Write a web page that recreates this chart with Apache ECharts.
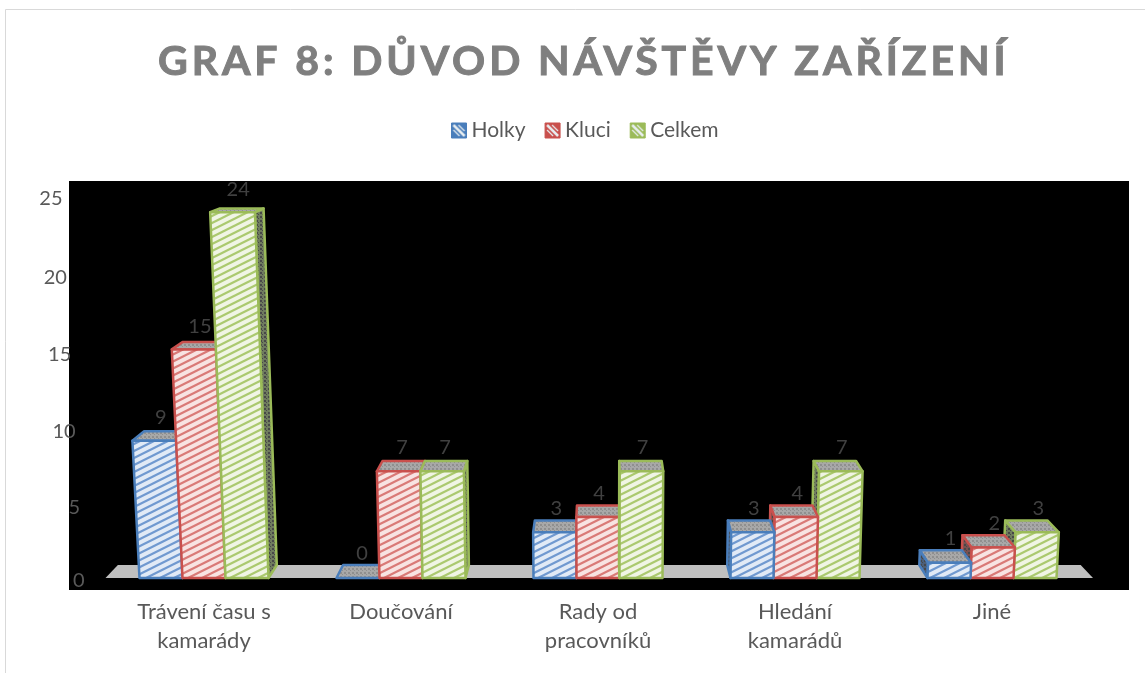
<!DOCTYPE html>
<html><head><meta charset="utf-8">
<style>html,body{margin:0;padding:0;background:#fff}#c{width:1145px;height:673px}</style>
<script src="https://cdn.jsdelivr.net/npm/echarts@6/dist/echarts.min.js"></script>
</head><body><div id="c"></div>
<script>
const titleText = 'GRAF 8: DŮVOD NÁVŠTĚVY ZAŘÍZENÍ';
const categories = ['Trávení času s\nkamarády', 'Doučování', 'Rady od\npracovníků', 'Hledání\nkamarádů', 'Jiné'];
const seriesNames = ['Holky', 'Kluci', 'Celkem'];
const holky = [9, 0, 3, 3, 1];
const kluci = [15, 7, 4, 4, 2];
const celkem = [24, 7, 7, 7, 3];
const yTicks = [0, 5, 10, 15, 20, 25];

const FONT = 'Lato';
const VPX = 600, VPY = 58, DEPTH = 0.025, SKEW = 1.12e-4, BAR = 0.2183;
const palette = [
  {line: '#4a7ebb', stripe: '#7099d0', bg: '#e1eaf6', side: '#4c5f78'},
  {line: '#c9504d', stripe: '#d97a77', bg: '#f8e3e2', side: '#7a5050'},
  {line: '#9bbb59', stripe: '#abc96f', bg: '#f0f5e4', side: '#6f7c5e'}
];
const yNudge = {0: 3, 5: 6, 10: 6, 15: 5, 20: 4, 25: 2};

function tile(w, h, draw) {
  const c = document.createElement('canvas'); c.width = w; c.height = h;
  draw(c.getContext('2d'), w, h);
  return {image: c, repeat: 'repeat'};
}
function stripes(bg, fg) {
  return tile(14, 7, (g, w, h) => {
    g.fillStyle = bg; g.fillRect(0, 0, w, h);
    g.strokeStyle = fg; g.lineWidth = 2.2;
    [-h, 0, h].forEach(o => { g.beginPath(); g.moveTo(-2, h + o + 1); g.lineTo(w + 2, o - 1); g.stroke(); });
  });
}
function dots(bg, fg) {
  return tile(4, 4, (g, w, h) => {
    g.fillStyle = bg; g.fillRect(0, 0, w, h);
    g.fillStyle = fg; g.fillRect(0, 0, 2, 2); g.fillRect(2, 2, 1, 1);
  });
}
function legendIcon(col) {
  return tile(15, 15, (g, w, h) => {
    g.fillStyle = col; g.fillRect(0, 0, w, h);
    g.strokeStyle = '#e8eef0'; g.lineWidth = 2.5;
    g.beginPath(); g.moveTo(2, 2); g.lineTo(13, 13); g.stroke();
    g.lineWidth = 1.2;
    g.beginPath(); g.moveTo(7, 2); g.lineTo(13, 8); g.moveTo(2, 7); g.lineTo(8, 13); g.stroke();
  });
}
const fronts = palette.map(p => stripes(p.bg, p.stripe));
const topFill = dots('#a8a8a8', '#8f8f8f');
const sides = palette.map(p => dots(p.side, '#484848'));

const back = p => [p[0] + (VPX - p[0]) * DEPTH, p[1] + (VPY - p[1]) * DEPTH];

function barRenderer(si) {
  return (params, api) => {
    const cat = api.value(0), val = api.value(1);
    const base = api.coord([cat, 0]), tip = api.coord([cat, val]);
    const w = api.size([1, 0])[0] * BAR;
    const left = base[0] + (si - 1.5) * w, right = left + w;
    const yB = base[1], yT = tip[1], h = yB - yT;
    const sk = x => x + (x - VPX) * h * SKEW;
    const fbL = [left, yB], fbR = [right, yB], ftL = [sk(left), yT], ftR = [sk(right), yT];
    const btL = back(ftL), btR = back(ftR);
    const order = (base[0] < VPX ? si : 2 - si) * 10;
    const col = palette[si], children = [];
    const poly = (points, fill, z2) => ({
      type: 'polygon', shape: {points}, z2,
      style: {fill, stroke: col.line, lineWidth: 2.5, lineJoin: 'round'}
    });
    if (right < VPX) children.push(poly([ftR, fbR, back(fbR), btR], sides[si], order));
    else if (left > VPX) children.push(poly([ftL, fbL, back(fbL), btL], sides[si], order));
    children.push(poly([ftL, ftR, btR, btL], topFill, order + 1));
    if (h > 0) children.push(poly([fbL, fbR, ftR, ftL], fronts[si], order + 2));
    const mid = (ftL[0] + ftR[0]) / 2;
    children.push({
      type: 'text', z2: 200, silent: true,
      style: {
        text: String(val), x: mid + (mid < VPX ? (VPX - mid) * DEPTH / 2 : 0) + 1,
        y: btL[1] - 11 - val / 3, fill: '#404040',
        font: '20px ' + FONT, align: 'center', verticalAlign: 'middle'
      }
    });
    return {type: 'group', children};
  };
}
function floorRenderer(params, api) {
  const r = params.coordSys;
  const a = [r.x, r.y + r.height], b = [r.x + r.width + 2.5, r.y + r.height];
  return {type: 'polygon', shape: {points: [a, b, back(b), back(a)]}, style: {fill: '#bfbfbf'}};
}

const rich = {};
yTicks.forEach(v => { rich['t' + v] = {fontFamily: FONT, fontSize: 20, color: '#595959', padding: [yNudge[v] * 2, v * 0.88, 0, 0]}; });

const chart = echarts.init(document.getElementById('c'), null, {renderer: 'canvas'});
chart.setOption({
  animation: false,
  backgroundColor: '#fff',
  title: {
    text: titleText, left: 153, top: 36, zlevel: 1,
    textStyle: {
      fontFamily: FONT, fontWeight: 'bold', fontSize: 41, color: '#7f7f7f',
      textBorderColor: '#7f7f7f', textBorderWidth: 1
    }
  },
  legend: {
    left: 451, top: 120, padding: 0, itemWidth: 15, itemHeight: 15, itemGap: 19,
    textStyle: {fontFamily: FONT, fontSize: 21, color: '#595959'},
    data: seriesNames.map((n, i) => ({
      name: n, icon: 'rect',
      itemStyle: {color: legendIcon(palette[i].line), borderColor: palette[i].line, borderWidth: 1}
    }))
  },
  grid: {left: 105.5, right: 54.5, top: 197, bottom: 95},
  graphic: [
    {type: 'rect', z: -1, shape: {x: 69, y: 181, width: 1060, height: 409}, style: {fill: '#000'}},
    {type: 'line', z: -1, shape: {x1: 5.5, y1: 9.5, x2: 1145, y2: 9.5}, style: {stroke: '#d9d9d9', lineWidth: 1}},
    {type: 'line', z: -1, shape: {x1: 5.5, y1: 9.5, x2: 5.5, y2: 673}, style: {stroke: '#d9d9d9', lineWidth: 1}}
  ],
  xAxis: {
    type: 'category', data: categories,
    axisLine: {show: false}, axisTick: {show: false},
    axisLabel: {fontFamily: FONT, fontSize: 22, color: '#595959', margin: 19, lineHeight: 29, interval: 0}
  },
  yAxis: {
    type: 'value', min: 0, max: 25, interval: 5,
    axisLine: {show: false}, axisTick: {show: false}, splitLine: {show: false},
    axisLabel: {margin: 21, formatter: v => '{t' + v + '|' + v + '}', rich}
  },
  series: [
    {name: 'podlaha', type: 'custom', z: 1, silent: true, renderItem: floorRenderer, data: [[0, 0]], encode: {x: 0, y: 1}},
    ...[holky, kluci, celkem].map((vals, si) => ({
      name: seriesNames[si], type: 'custom', z: 2, silent: true,
      renderItem: barRenderer(si),
      encode: {x: 0, y: 1},
      itemStyle: {color: palette[si].line},
      data: vals.map((v, i) => [i, v])
    }))
  ]
});
// Title letter spacing lives on the title's own canvas layer.
const zr = chart.getZr();
const layer = zr.painter.getLayer(1);
if (layer && layer.ctx) { layer.ctx.letterSpacing = '3.9px'; zr.painter.refresh(true); }
</script></body></html>
